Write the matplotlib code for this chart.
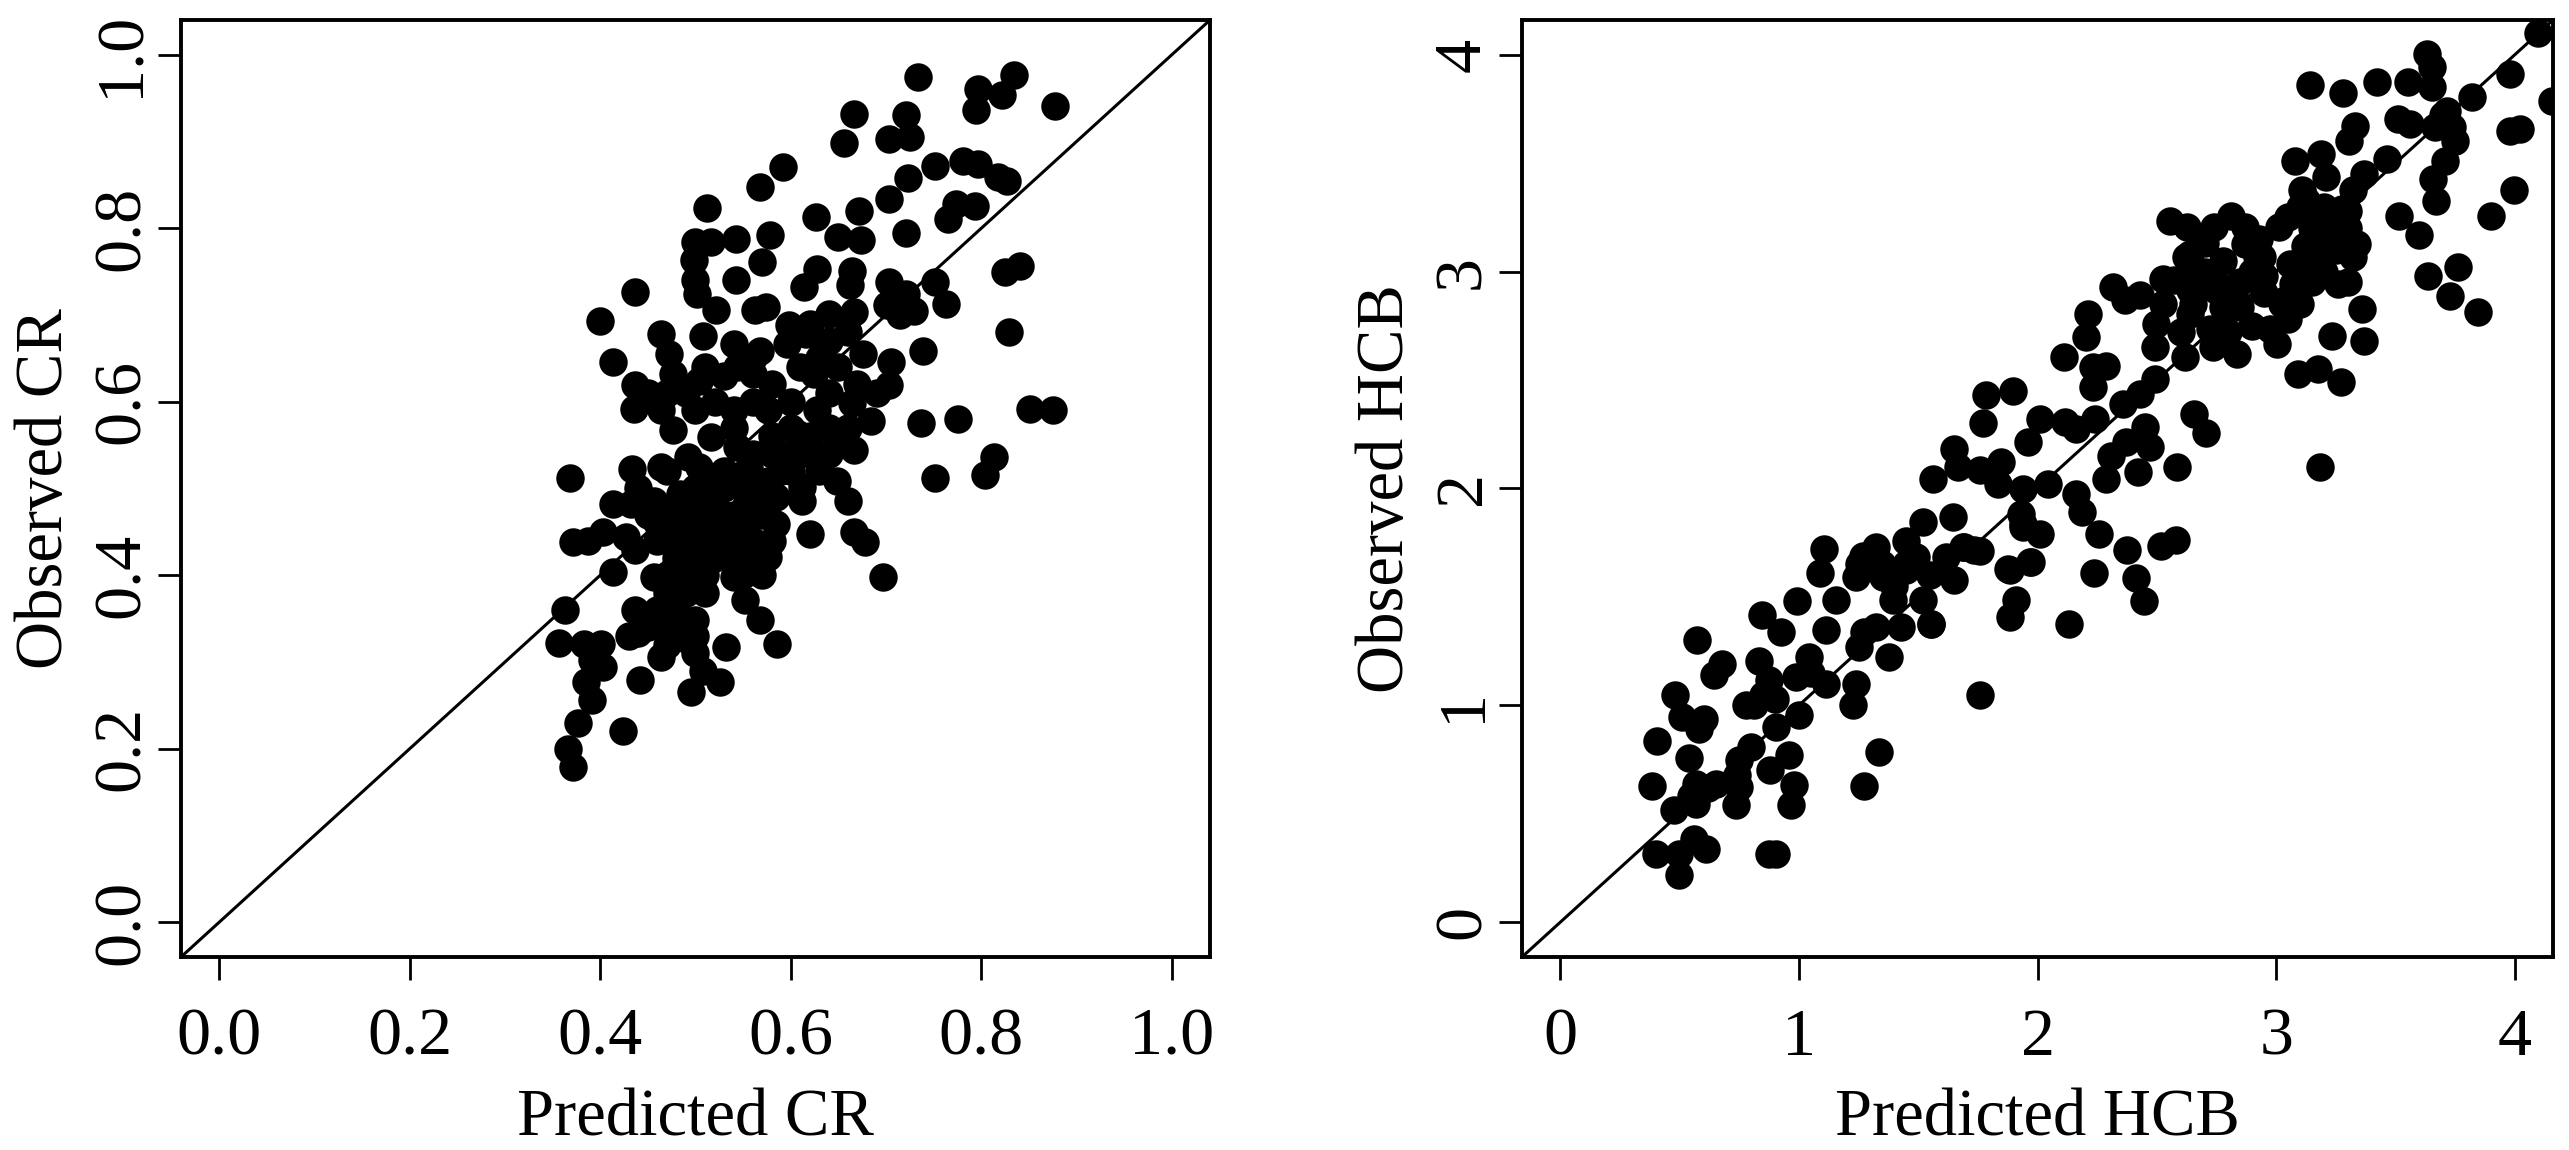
"""Observed against predicted scatter plots for CR and HCB."""

import matplotlib

matplotlib.use("Agg")
import matplotlib.pyplot as plt
import numpy as np

cr_pred = [
    .734, .834, .797, .822, .794, .877, .666, .721, .656, .703,
    .725, .592, .568, .751, .781, .797, .817, .827, .723, .703,
    .512, .626, .672, .650, .674, .721, .773, .793, .765, .436,
    .400, .413, .500, .516, .542, .578, .498, .500, .502, .570,
    .542, .522, .562, .574, .628, .614, .664, .662, .703, .751,
    .763, .701, .715, .729, .721, .829, .825, .841, .739, .464,
    .508, .472, .540, .568, .598, .640, .666, .616, .676, .705,
    .703, .624, .596, .476, .504, .544, .560, .437, .435, .464,
    .500, .540, .576, .628, .664, .737, .775, .851, .875, .476,
    .608, .648, .666, .684, .516, .544, .600, .751, .804, .813,
    .368, .433, .464, .492, .516, .544, .576, .612, .648, .660,
    .413, .432, .403, .371, .387, .427, .456, .484, .516, .552,
    .584, .612, .584, .620, .666, .678, .697, .413, .436, .468,
    .496, .520, .552, .576, .540, .552, .568, .586, .456, .492,
    .472, .436, .500, .363, .357, .383, .401, .440, .464, .492,
    .532, .508, .526, .495, .442, .403, .391, .385, .391, .377,
    .424, .366, .371, .476, .536, .504, .556, .480, .500, .520,
    .460, .540, .560, .600, .580, .560, .520, .620,
    # dense core, overlapping marks estimated
    .620, .640, .660, .630, .650, .610, .640, .670, .690, .600,
    .580, .560, .530, .510, .490, .470, .450, .540, .600, .640,
    .660, .560, .580, .620, .640, .470, .530, .590, .630, .440,
    .500, .530, .550, .570, .450, .470, .490, .510, .530, .550,
    .570, .460, .480, .500, .520, .540, .560, .580, .480, .500,
    .520, .540, .560, .470, .490, .510, .550, .570, .470, .490,
    .510, .460, .480, .450, .470, .490, .430, .500, .500, .470,
]
cr_obs = [
    .974, .977, .961, .953, .936, .941, .932, .930, .898, .903,
    .905, .871, .848, .872, .878, .874, .859, .855, .858, .834,
    .823, .813, .820, .790, .786, .794, .828, .826, .811, .726,
    .693, .646, .784, .784, .788, .792, .763, .740, .724, .761,
    .740, .706, .706, .709, .753, .732, .751, .734, .738, .738,
    .713, .711, .700, .705, .724, .680, .750, .757, .658, .678,
    .676, .655, .667, .659, .688, .701, .703, .678, .655, .646,
    .619, .632, .667, .632, .624, .640, .632, .619, .592, .590,
    .590, .590, .590, .590, .598, .575, .580, .592, .590, .567,
    .563, .559, .544, .578, .559, .548, .540, .512, .515, .536,
    .512, .523, .525, .536, .509, .513, .509, .502, .509, .486,
    .482, .482, .450, .438, .440, .444, .486, .494, .486, .479,
    .490, .486, .459, .448, .450, .438, .398, .404, .429, .448,
    .448, .456, .448, .421, .398, .371, .348, .321, .398, .398,
    .360, .360, .348, .360, .322, .321, .321, .333, .306, .325,
    .317, .290, .277, .265, .279, .294, .302, .277, .256, .230,
    .221, .200, .179, .406, .425, .525, .525, .470, .470, .470,
    .460, .470, .500, .520, .560, .600, .600, .560,
    .690, .670, .680, .650, .640, .640, .610, .620, .610, .600,
    .620, .650, .630, .640, .610, .610, .610, .570, .570, .570,
    .570, .540, .540, .540, .540, .520, .520, .520, .520, .500,
    .500, .500, .500, .500, .470, .470, .470, .470, .470, .470,
    .470, .440, .440, .440, .440, .440, .440, .440, .420, .420,
    .420, .420, .420, .400, .400, .400, .400, .400, .380, .380,
    .380, .360, .360, .340, .340, .340, .330, .330, .310, .320,
]

hcb_pred = [
    1.107, 1.089, .992, .575, .844, .925, 1.156, 1.114, .680, .645,
    .834, 1.044, .876, .988, 1.114, .813, 1.000, .904, .480, .512,
    .603, .582, .404, .540, .799, .750, .960, .878, .980, .967,
    1.335, 1.272, .386, .568, .652, .750, .736, .477, .568, .400,
    .561, .610, .498, .498, .876, .904, 1.757, 1.240, 1.225, 1.275,
    1.323, 1.253, 1.379, 1.428, 1.554, 1.393, 1.519, 1.267, 1.323, 1.239,
    1.351, 1.449, 1.491, 1.449, 1.652, 1.617, 1.694, 1.757, 1.883, 1.967,
    1.911, 1.883, 1.519, 1.645, 1.939,
    2.316, 2.428, 2.365, 2.526, 2.212, 2.205, 2.109, 2.233, 2.288, 2.233,
    1.785, 1.897, 1.771, 2.009, 2.114, 2.163, 2.240, 1.960, 1.652, 1.666,
    1.757, 1.848, 1.561, 1.834, 1.939, 2.044, 2.358, 2.428, 2.491, 2.617,
    2.736, 2.834, 2.491, 2.498, 2.526, 2.638, 2.778, 2.848, 2.722, 2.974,
    3.002, 3.093, 3.177, 3.270, 3.233, 3.370, 3.261, 3.359, 3.023, 3.072,
    2.624, 2.778, 2.918, 3.058, 3.170, 3.324, 3.254, 2.638, 2.750, 2.449,
    2.372, 2.470, 2.309, 2.421, 2.288, 2.585, 2.655, 2.704, 3.184, 2.160,
    2.188, 2.258, 2.377, 2.519, 2.582, 2.237, 2.414, 2.445, 2.130, 1.876,
    1.974, 1.932, 1.939, 2.009, 1.736, 1.687, 1.554,
    3.142, 3.281, 3.421, 3.552, 3.634, 3.651, 3.651, 3.822, 3.978, 4.097,
    4.156, 3.978, 4.021, 3.509, 3.559, 3.715, 3.737, 3.665, 3.331, 3.307,
    3.466, 3.189, 3.078, 3.210, 3.367, 3.110, 3.125, 3.324, 3.274, 3.708,
    3.658, 3.670, 3.997, 3.900, 3.516, 3.597, 3.762, 3.637, 3.729, 3.846,
    3.338, 3.011, 3.210, 3.039, 3.082, 2.868, 2.812, 2.740, 2.868, 2.627,
    2.555, 2.641, 2.940, 2.783, 2.840, 2.669, 2.570, 2.740,
    # dense core, overlapping marks estimated
    2.700, 2.850, 2.950, 3.100, 3.200, 3.300, 2.900, 2.800, 2.900, 2.600,
    2.650, 3.050, 3.150, 3.250, 3.200, 3.150, 3.300, 3.120, 2.700, 2.930,
    2.950, 3.050, 3.250, 3.100, 3.300, 1.250, 1.350, 1.400, 1.450, 1.550,
    .900, .850, .780, .740, .620, .550, 1.050, 3.750, 3.700,
]
hcb_obs = [
    1.722, 1.611, 1.481, 1.303, 1.415, 1.338, 1.484, 1.346, 1.192, 1.138,
    1.207, 1.223, 1.115, 1.131, 1.100, 1.000, .954, .900, 1.046, .946,
    .939, .892, .834, .757, .808, .747, .770, .704, .631, .539,
    .785, .628, .628, .639, .639, .624, .539, .516, .547, .313,
    .386, .340, .317, .217, .317, .317, 1.046, 1.100, 1.000, 1.338,
    1.361, 1.269, 1.223, 1.361, 1.376, 1.484, 1.484, 1.691, 1.730, 1.591,
    1.591, 1.760, 1.684, 1.622, 1.576, 1.684, 1.730, 1.714, 1.622, 1.660,
    1.484, 1.407, 1.845, 1.868, 1.837,
    2.928, 2.890, 2.867, 2.966, 2.805, 2.698, 2.608, 2.559, 2.567, 2.467,
    2.429, 2.449, 2.303, 2.321, 2.306, 2.275, 2.321, 2.214, 2.183, 2.099,
    2.083, 2.122, 2.045, 2.022, 1.999, 2.022, 2.390, 2.436, 2.506, 2.605,
    2.651, 2.621, 2.651, 2.759, 2.851, 2.805, 2.836, 2.836, 2.736, 2.736,
    2.667, 2.529, 2.552, 2.490, 2.702, 2.682, 2.943, 2.828, 2.851, 2.943,
    3.066, 3.051, 3.066, 3.035, 3.066, 3.066, 3.112, 2.913, 2.913, 2.283,
    2.214, 2.191, 2.152, 2.075, 2.045, 2.099, 2.344, 2.255, 2.099, 1.976,
    1.891, 1.788, 1.718, 1.733, 1.761, 1.610, 1.589, 1.481, 1.377, 1.630,
    1.661, 1.883, 1.822, 1.791, 1.715, 1.730, 1.377,
    3.862, 3.822, 3.873, 3.873, 4.003, 3.942, 3.850, 3.807, 3.911, 4.099,
    3.785, 3.650, 3.658, 3.704, 3.681, 3.742, 3.665, 3.665, 3.673, 3.604,
    3.519, 3.543, 3.509, 3.435, 3.450, 3.374, 3.328, 3.374, 3.289, 3.512,
    3.427, 3.327, 3.378, 3.255, 3.258, 3.171, 3.020, 2.982, 2.887, 2.813,
    3.128, 3.205, 3.159, 2.867, 3.020, 3.128, 3.258, 3.205, 3.205, 3.205,
    3.235, 3.082, 3.066, 2.851, 2.851, 2.974, 2.959, 2.974,
    3.000, 2.950, 2.900, 2.850, 3.000, 2.950, 3.000, 2.720, 2.750, 2.720,
    2.850, 2.780, 2.950, 3.250, 3.300, 3.200, 3.200, 3.120, 3.130, 3.150,
    2.980, 3.250, 3.100, 3.300, 3.280, 1.650, 1.650, 1.550, 1.650, 1.600,
    1.030, 1.050, 1.000, .680, .620, .580, 1.150, 3.600, 3.720,
]

cr_ticks = [0.0, 0.2, 0.4, 0.6, 0.8, 1.0]
hcb_ticks = [0, 1, 2, 3, 4]

W, H = 2569, 1150
plt.rcParams["font.family"] = ["Liberation Serif", "DejaVu Serif"]


def draw_panel(box, xs, ys, ticks, fmt, lim, xlabel, ylabel):
    left, top, right, bottom = box
    ax = fig.add_axes([left / W, 1 - bottom / H, (right - left) / W, (bottom - top) / H])
    ax.scatter(xs, ys, s=420, color="black", linewidths=0, zorder=2)
    ax.plot(lim, lim, color="black", linewidth=2.2, zorder=1)
    ax.set_xlim(lim)
    ax.set_ylim(lim)
    ax.set_xticks(ticks, [fmt.format(t) for t in ticks])
    ax.set_yticks(ticks, [fmt.format(t) for t in ticks])
    ax.tick_params(length=16.5, width=2, labelsize=49, pad=20, color="black")
    ax.tick_params(axis="y", pad=4)
    for t in ax.get_yticklabels():
        t.set_rotation(90)
        t.set_va("center")
    for spine in ax.spines.values():
        spine.set_linewidth(2.8)
    ax.set_xlabel(xlabel, fontsize=48, labelpad=14)
    ax.set_ylabel(ylabel, fontsize=48, labelpad=11)
    return ax


fig = plt.figure(figsize=(W / 100, H / 100), dpi=100)
draw_panel((181, 20, 1210, 957), cr_pred, cr_obs, cr_ticks, "{:.1f}", (-0.04, 1.04),
           "Predicted CR", "Observed CR")
draw_panel((1522, 20, 2553, 957), hcb_pred, hcb_obs, hcb_ticks, "{:d}", (-0.16, 4.16),
           "Predicted HCB", "Observed HCB")
fig.savefig("out.png", dpi=100)
plt.close(fig)
